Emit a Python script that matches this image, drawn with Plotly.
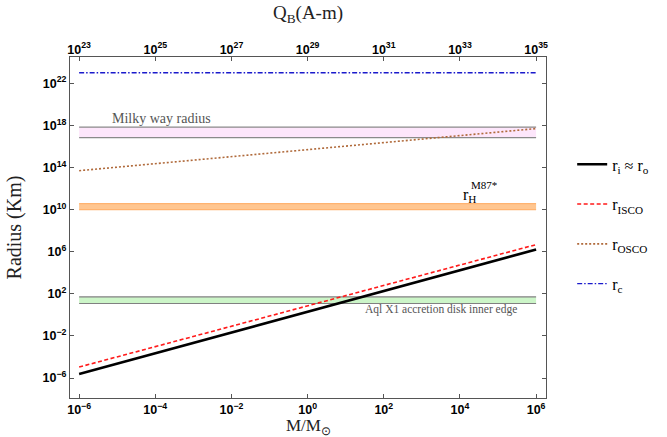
import plotly.graph_objects as go

# ---- data ----
mass = [1e-6, 1e6]                      # M / M_sun
r_i = [2.4e-6, 1.6e6]                   # r_i ~ r_o (km)
r_isco = [1.1e-5, 4.7e6]                # r_ISCO (km)
r_osco = [5.0e13, 5.0e17]               # r_OSCO (km)
r_c = [1.0e23, 1.0e23]                  # r_c (km)
q_b = [1e23, 1e35]                      # Q_B (A-m), top axis

milky_low = [6.8e16, 6.8e16]
milky_high = [7.0e17, 7.0e17]
m87_low = [1.0e10, 1.0e10]
m87_high = [3.7e10, 3.7e10]
aql_low = [12.0, 12.0]
aql_high = [51.0, 51.0]

x_tickvals = [1e-6, 1e-4, 1e-2, 1e0, 1e2, 1e4, 1e6]
x_ticktext = ["10<sup>−6</sup>", "10<sup>−4</sup>", "10<sup>−2</sup>", "10<sup>0</sup>",
              "10<sup>2</sup>", "10<sup>4</sup>", "10<sup>6</sup>"]
y_tickvals = [1e-6, 1e-2, 1e2, 1e6, 1e10, 1e14, 1e18, 1e22]
y_ticktext = ["10<sup>−6</sup>", "10<sup>−2</sup>", "10<sup>2</sup>", "10<sup>6</sup>",
              "10<sup>10</sup>", "10<sup>14</sup>", "10<sup>18</sup>", "10<sup>22</sup>"]
q_tickvals = [1e23, 1e25, 1e27, 1e29, 1e31, 1e33, 1e35]
q_ticktext = ["10<sup>23</sup>", "10<sup>25</sup>", "10<sup>27</sup>", "10<sup>29</sup>",
              "10<sup>31</sup>", "10<sup>33</sup>", "10<sup>35</sup>"]

SERIF = "Liberation Serif"
SANS = "Liberation Sans"

fig = go.Figure()

def band(low, high, fill, edge):
    fig.add_trace(go.Scatter(x=mass, y=low, mode="lines", line=dict(color=edge, width=1.2),
                             showlegend=False, hoverinfo="skip"))
    fig.add_trace(go.Scatter(x=mass, y=high, mode="lines", line=dict(color=edge, width=1.2),
                             fill="tonexty", fillcolor=fill, showlegend=False, hoverinfo="skip"))

band(milky_low, milky_high, "#fde6fb", "#8a8a8a")
band(m87_low, m87_high, "#ffc690", "#ffb370")
band(aql_low, aql_high, "#ccf5c8", "#808080")

fig.add_trace(go.Scatter(x=mass, y=r_i, mode="lines", name="r<sub>i</sub> ≈ r<sub>o</sub>",
                         line=dict(color="black", width=2.6), legendgroup="a"))
fig.add_trace(go.Scatter(x=mass, y=r_isco, mode="lines", name="r<sub>ISCO</sub>",
                         line=dict(color="#ff1a1a", width=1.6, dash="4px,2.5px"), legendgroup="b"))
fig.add_trace(go.Scatter(x=mass, y=r_osco, mode="lines", name="r<sub>OSCO</sub>",
                         line=dict(color="#b06a3b", width=1.6, dash="2px,2px"), legendgroup="c"))
fig.add_trace(go.Scatter(x=mass, y=r_c, mode="lines", name="r<sub>c</sub>",
                         line=dict(color="#1a1acc", width=1.4, dash="5px,2px,1.5px,2px"),
                         legendgroup="d"))
fig.add_trace(go.Scatter(x=q_b, y=r_c, xaxis="x2", mode="lines", line=dict(width=0),
                         opacity=0, showlegend=False, hoverinfo="skip"))

tickfont = dict(family=SANS, size=12.5, color="black", weight="bold")
axcol = "#555555"

fig.update_layout(
    width=667, height=437,
    margin=dict(l=70, r=121, t=57, b=39),
    paper_bgcolor="white", plot_bgcolor="white",
    showlegend=True,
    legend=dict(x=1.055, y=0.735, xanchor="left", yanchor="top",
                font=dict(family=SERIF, size=16, color="black"),
                tracegroupgap=16, bgcolor="rgba(0,0,0,0)"),
    xaxis=dict(type="log", range=[-6.24, 6.26], tickvals=x_tickvals, ticktext=x_ticktext,
               tickfont=tickfont, ticks="inside", ticklen=4, tickcolor=axcol,
               showline=True, linecolor=axcol, linewidth=1.2, mirror=True,
               showgrid=False, zeroline=False, automargin=False),
    xaxis2=dict(type="log", range=[22.76, 35.26], overlaying="x", side="top",
                tickvals=q_tickvals, ticktext=q_ticktext, tickfont=tickfont,
                ticks="inside", ticklen=4, tickcolor=axcol, showgrid=False, zeroline=False,
                automargin=False,
                title=dict(text="Q<sub>B</sub>(A-m)", font=dict(family=SERIF, size=19, color="#222"))),
    yaxis=dict(type="log", range=[-7.9, 24.5], tickvals=y_tickvals, ticktext=y_ticktext,
               tickfont=tickfont, ticks="inside", ticklen=4, tickcolor=axcol,
               showline=True, linecolor=axcol, linewidth=1.2, mirror="ticks",
               showgrid=False, zeroline=False, automargin=False,
               title=dict(text="Radius (Km)", font=dict(family=SERIF, size=20, color="#222"))),
)

# bottom axis title
fig.add_annotation(x=0.5, y=-0.084, xref="paper", yref="paper", text="M/M<sub>⊙</sub>",
                   showarrow=False, xanchor="center", yanchor="middle",
                   font=dict(family=SERIF, size=17, color="#222"))

fig.add_annotation(x=-5.19, y=18.67, xref="x", yref="y", text="Milky way radius",
                   showarrow=False, xanchor="left", yanchor="middle",
                   font=dict(family=SERIF, size=14, color="#555555"))
fig.add_annotation(x=4.02, y=11.3, xref="x", yref="y", text="r<sub>H</sub>",
                   showarrow=False, xanchor="left", yanchor="middle",
                   font=dict(family=SERIF, size=16, color="black"))
fig.add_annotation(x=4.25, y=12.35, xref="x", yref="y", text="M87*",
                   showarrow=False, xanchor="left", yanchor="middle",
                   font=dict(family=SERIF, size=11, color="black"))
fig.add_annotation(x=3.51, y=0.48, xref="x", yref="y", text="Aql X1 accretion disk inner edge",
                   showarrow=False, xanchor="center", yanchor="middle",
                   font=dict(family=SERIF, size=11.5, color="#555555"))

fig.write_html("out.html", config={"displayModeBar": False},
               post_script="document.body.style.margin='0';")
